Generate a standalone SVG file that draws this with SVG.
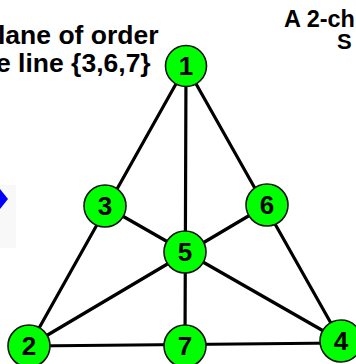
<svg xmlns="http://www.w3.org/2000/svg" width="356" height="364" viewBox="0 0 356 364">
<style>
.t{font-family:"Liberation Sans",Arial,sans-serif;font-weight:bold;fill:#000}
.n circle{fill:#00ff00;stroke:#111;stroke-width:1.6}
.n text{font-family:"Liberation Sans",Arial,sans-serif;font-weight:bold;font-size:26px;text-anchor:middle;fill:#000}
.e line{stroke:#000;stroke-width:3.2;stroke-linecap:round}
</style>
<rect x="0" y="0" width="356" height="364" fill="#fff"/>
<rect x="0" y="185" width="16" height="63" fill="#f8f8f8"/>
<polygon points="0,189 8,199 0,209" fill="#0000ff"/>
<text class="t" x="-2" y="44" font-size="26.5">lane of order</text>
<text class="t" x="-4" y="72" font-size="26.5">e line {3,6,7}</text>
<text class="t" x="284" y="27" font-size="23.5">A 2-ch</text>
<text class="t" x="337" y="49" font-size="22">S</text>
<g class="e" id="connectors">
<line x1="186" y1="66" x2="29" y2="346"/>
<line x1="186" y1="66" x2="341" y2="341"/>
<line x1="29" y1="346" x2="341" y2="343"/>
<line x1="186" y1="66" x2="185" y2="346"/>
<line x1="29" y1="346" x2="267" y2="205"/>
<line x1="341" y1="341" x2="105" y2="206"/>
</g>
<g class="n" id="node1"><circle cx="186" cy="66" r="20.5"/><text x="186" y="75">1</text></g>
<g class="n" id="node3"><circle cx="105" cy="206" r="21"/><text x="105" y="215">3</text></g>
<g class="n" id="node6"><circle cx="267" cy="205" r="21"/><text x="267" y="214">6</text></g>
<g class="n" id="node5"><circle cx="185" cy="252" r="21"/><text x="185" y="261">5</text></g>
<g class="n" id="node2"><circle cx="29" cy="346" r="21"/><text x="29" y="355">2</text></g>
<g class="n" id="node7"><circle cx="185" cy="346" r="21"/><text x="185" y="355">7</text></g>
<g class="n" id="node4"><circle cx="341" cy="341" r="21"/><text x="341" y="350">4</text></g>
</svg>
